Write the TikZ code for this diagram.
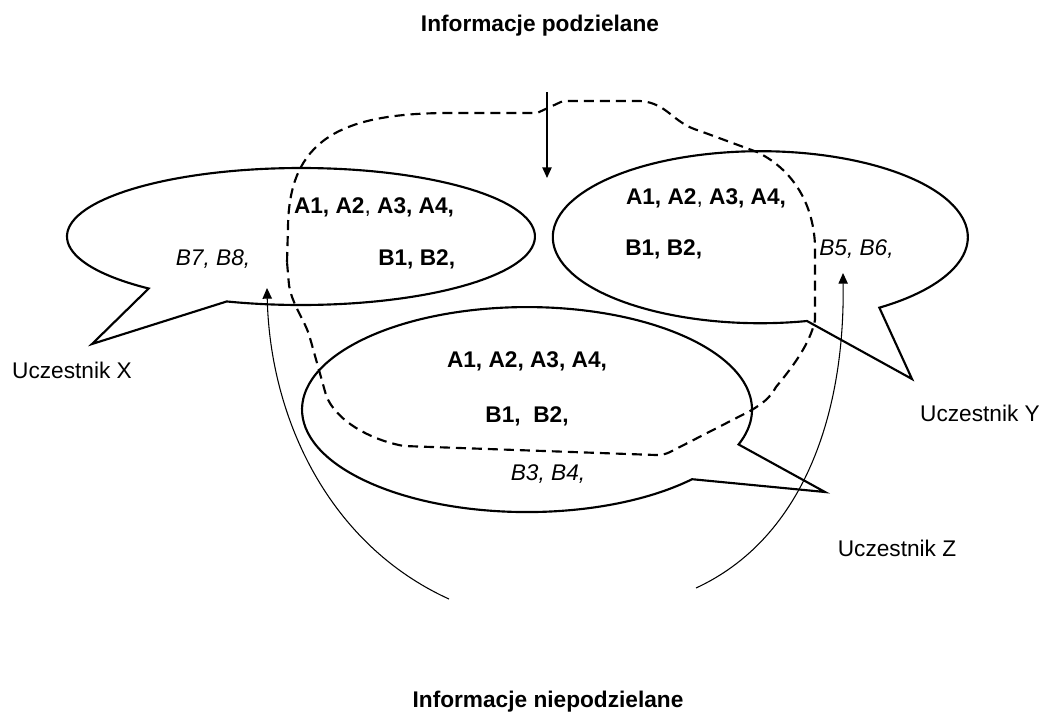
\documentclass[tikz,border=0pt]{standalone}
\usepackage{fontspec}
\setmainfont{Liberation Sans}
\usetikzlibrary{arrows.meta}

\tikzset{
  bubble/.style={line width=1.6pt},
  sharedline/.style={line width=1.6pt, dash pattern=on 7.5pt off 4.5pt},
  flow/.style={line width=0.8pt, -{Triangle[length=8pt,width=7pt]}},
  info/.style={font=\fontsize{17}{20}\selectfont\bfseries, inner sep=0pt},
  own/.style={font=\fontsize{17}{20}\selectfont\itshape, inner sep=0pt},
  who/.style={font=\fontsize{17}{20}\selectfont, inner sep=0pt}
}

\begin{document}
\begin{tikzpicture}[x=0.75pt,y=-0.75pt]

  \useasboundingbox (0,0) rectangle (1045,719);

  % Draw titles
  \node [info, anchor=base] (shared) at (540,31) {Informacje podzielane};
  \node [info, anchor=base] (unshared) at (548,707) {Informacje niepodzielane};

  % Draw shared region
  \draw [sharedline] (287,262) -- (288,227) .. controls (289,140) and (340,113) .. (450,113)
    -- (537,113) -- (563,101) -- (640,101) .. controls (668,103) and (672,123) .. (700,131)
    -- (757,152) .. controls (790,168) and (813,200) .. (815,245) -- (815,320)
    .. controls (810,345) and (790,370) .. (776,387) .. controls (770,398) and (762,404) .. (750,411)
    -- (670,452) .. controls (666,454) and (662,455) .. (656,455) -- (404,446)
    .. controls (370,440) and (335,420) .. (326,395) -- (310,338)
    .. controls (306,322) and (292,305) .. (289,285) -- cycle;

  % Draw bubble X
  \coordinate (TX) at (92,344);
  \draw [bubble] (148.7,288.5) arc [start angle=130.6, end angle=468.5, x radius=234, y radius=68.5] -- (TX) -- cycle;

  % Draw bubble Y
  \coordinate (TY) at (912,379);
  \draw [bubble] (807,321) arc [start angle=77, end angle=415, x radius=207.5, y radius=86] -- (TY) -- cycle;

  % Draw bubble Z
  \coordinate (TZ) at (825,492);
  \draw [bubble] (692.1,479.2) arc [start angle=42.8, end angle=379.9, x radius=225, y radius=102.5] -- (TZ) -- cycle;

  % Draw texts of X
  \node [info] (xa) at (374,207) {A1, A2{\mdseries ,} A3, A4,};
  \node [info, anchor=west] (xb) at (378,259) {B1, B2,};
  \node [own] (xown) at (213,259) {B7, B8,};

  % Draw texts of Y
  \node [info] (ya) at (706,198) {A1, A2{\mdseries ,} A3, A4,};
  \node [info, anchor=west] (yb) at (625,249) {B1, B2,};
  \node [own, anchor=west] (yown) at (819,249) {B5, B6,};

  % Draw texts of Z
  \node [info] (za) at (527,361) {A1, A2, A3, A4,};
  \node [info] (zb) at (527,416) {B1,\ \ B2,};
  \node [own] (zown) at (548,474) {B3, B4,};

  % Draw participants
  \node [who] (px) at (72,370) {Uczestnik X};
  \node [who] (py) at (980,413) {Uczestnik Y};
  \node [who] (pz) at (897,548) {Uczestnik Z};

  % Draw flow of shared information
  \coordinate (D0) at (547,92);
  \coordinate (D1) at (547,178);
  \draw [flow, line width=1pt] (D0) -- (D1);

  % Draw flow of unshared information
  \coordinate (L0) at (449,599);
  \coordinate (L1) at (267,288);
  \draw [flow] (L0) .. controls (330,545) and (270,420) .. (L1);
  \coordinate (R0) at (696,588);
  \coordinate (R1) at (843,273);
  \draw [flow] (R0) .. controls (800,540) and (845,420) .. (R1);

\end{tikzpicture}
\end{document}
